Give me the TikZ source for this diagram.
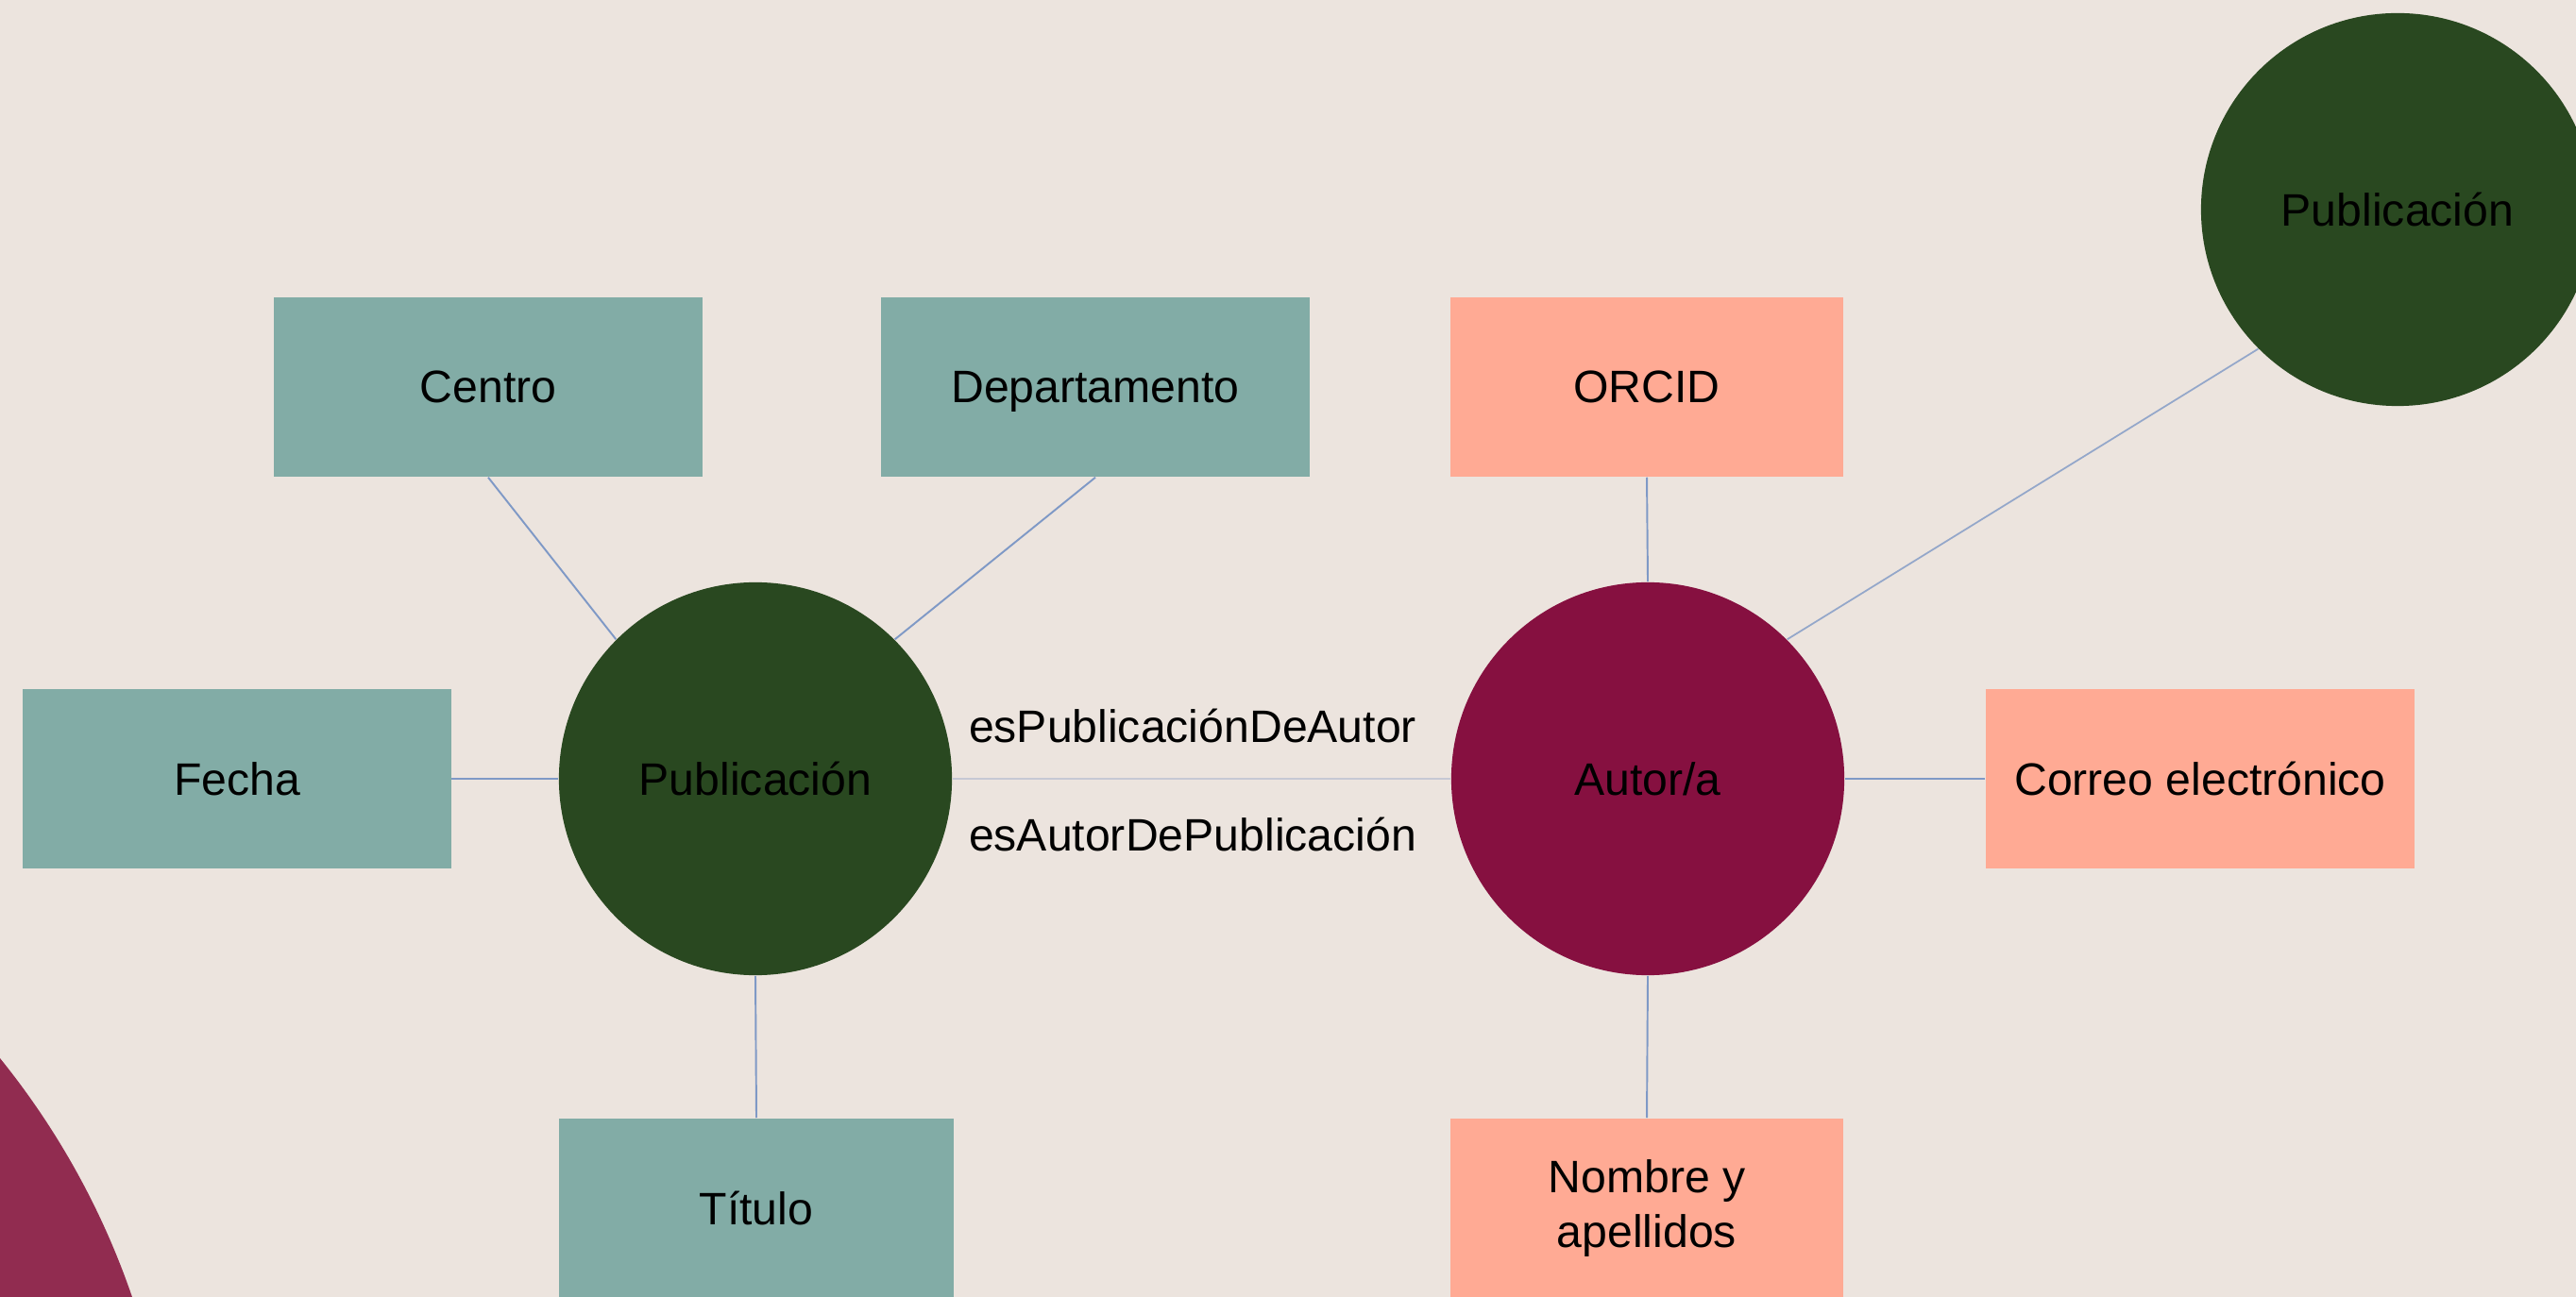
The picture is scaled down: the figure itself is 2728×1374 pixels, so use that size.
\documentclass[tikz,border=0pt]{standalone}
\usepackage{fontspec}
\setmainfont{Liberation Sans}
\usetikzlibrary{positioning}

\definecolor{bgbeige}{HTML}{ECE4DE}
\definecolor{attrteal}{HTML}{82ACA6}
\definecolor{attrsalmon}{HTML}{FFAA94}
\definecolor{pubgreen}{HTML}{294820}
\definecolor{autorred}{HTML}{861040}
\definecolor{deckred}{HTML}{912C50}
\definecolor{linkblue}{HTML}{7F99C6}
\definecolor{linkgray}{HTML}{C6C8D4}

\begin{document}
\begin{tikzpicture}[
    x=0.01cm, y=-0.01cm,
    txt/.style={font=\fontsize{13.7}{16.5}\selectfont, text=black},
    box/.style={rectangle, txt, minimum width=4.53cm, minimum height=1.9cm, align=center, inner sep=0pt},
    teal/.style={box, fill=attrteal},
    salmon/.style={box, fill=attrsalmon, minimum width=4.16cm},
    entity/.style={circle, txt, minimum size=4.16cm, inner sep=0pt},
    link/.style={draw=linkblue, line width=0.55pt},
    rellabel/.style={txt, inner sep=0pt}
]

% ==================== BACKGROUND ====================
\clip (0,0) rectangle (2728,1374);
\fill[bgbeige] (0,0) rectangle (2728,1374);
\fill[deckred] (-646,1643) circle[radius=8.3cm];

% ==================== PUBLICACION (Left) ====================
\node[entity, fill=pubgreen] (pub) at (800,825) {Publicación};

\node[teal] (centro) at (517,410) {Centro};
\node[teal, text depth=0pt] (depto) at (1160,410) {Departamento};
\node[teal] (fecha) at (251,825) {Fecha};
\node[teal, minimum width=4.17cm] (titulo) at (801,1280) {Título};

\draw[link] (centro.south) -- (pub.135);
\draw[link] (depto.south) -- (pub.45);
\draw[link] (fecha.east) -- (pub.west);
\draw[link] (titulo.north) -- (pub.south);

% ==================== AUTOR/A (Right) ====================
\node[entity, fill=autorred] (autor) at (1745,825) {Autor/a};

\node[salmon] (orcid) at (1744,410) {ORCID};
\node[salmon, minimum width=4.54cm] (correo) at (2330,825) {Correo electrónico};
\node[salmon] (nombre) at (1744,1280) {Nombre y\\apellidos};

\draw[link] (orcid.south) -- (autor.north);
\draw[link] (correo.west) -- (autor.east);
\draw[link] (nombre.north) -- (autor.south);

% ==================== RELATION ====================
\draw[draw=linkgray, line width=0.8pt] (pub.east) -- (autor.west);
\node[rellabel] (espub) at (1263,769) {esPublicaciónDeAutor};
\node[rellabel] (esaut) at (1263,884) {esAutorDePublicación};

% linked publication (top right)
\node[entity, fill=pubgreen] (pubtwo) at (2539,222) {Publicación};
\draw[draw=linkblue!70!linkgray, line width=0.5pt] (autor.45) -- (pubtwo.225);

\end{tikzpicture}
\end{document}
